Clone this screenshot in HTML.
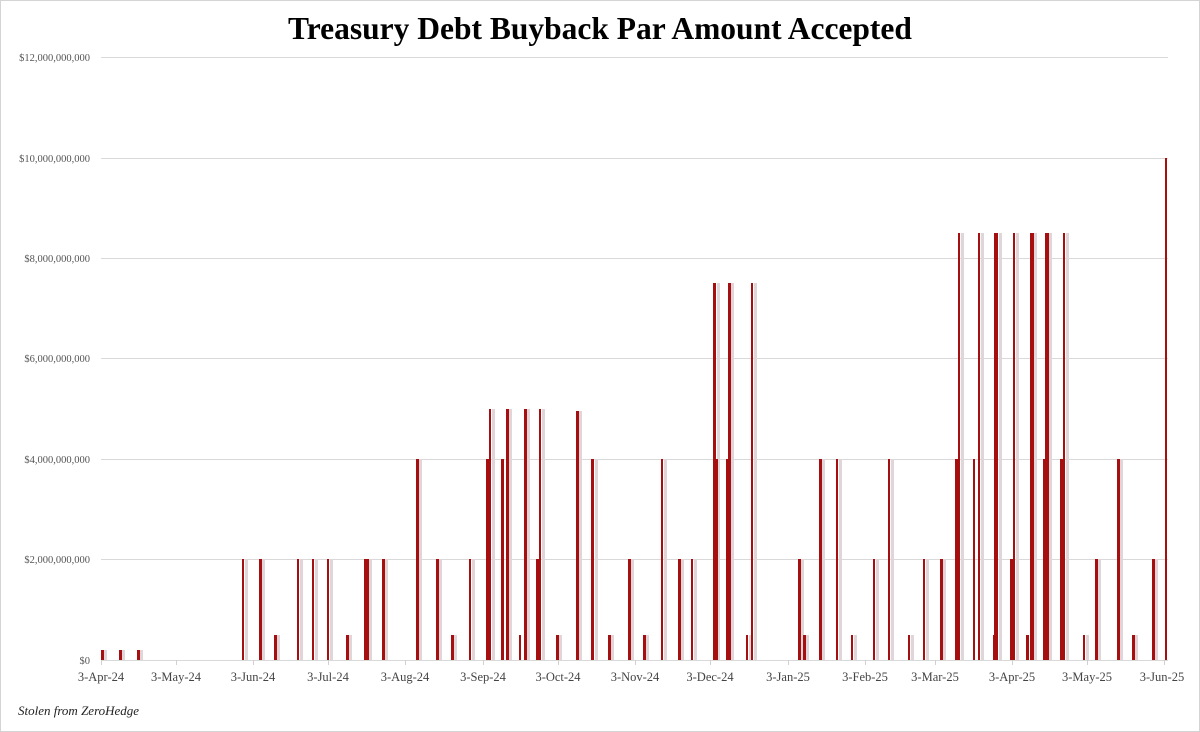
<!DOCTYPE html>
<html><head><meta charset="utf-8"><style>
html,body{margin:0;padding:0;background:#fff}
svg{display:block}
</style></head><body>
<svg width="1200" height="732" viewBox="0 0 1200 732" xmlns="http://www.w3.org/2000/svg">
<rect x="0.5" y="0.5" width="1199" height="731" fill="#fff" stroke="#d4d4d4"/>
<text x="600" y="39" text-anchor="middle" font-family="Liberation Serif, serif" font-weight="bold" font-size="31.5" fill="#000">Treasury Debt Buyback Par Amount Accepted</text>
<g stroke="#d9d9d9" stroke-width="1">
<line x1="101" x2="1168" y1="57.5" y2="57.5"/>
<line x1="101" x2="1168" y1="158.5" y2="158.5"/>
<line x1="101" x2="1168" y1="258.5" y2="258.5"/>
<line x1="101" x2="1168" y1="358.5" y2="358.5"/>
<line x1="101" x2="1168" y1="459.5" y2="459.5"/>
<line x1="101" x2="1168" y1="559.5" y2="559.5"/>
<line x1="101" x2="1168" y1="660.5" y2="660.5"/>
</g>
<g font-family="Liberation Serif, serif" font-size="10.5" fill="#555" text-anchor="end">
<text x="90" y="61">$12,000,000,000</text>
<text x="90" y="162">$10,000,000,000</text>
<text x="90" y="262">$8,000,000,000</text>
<text x="90" y="362">$6,000,000,000</text>
<text x="90" y="463">$4,000,000,000</text>
<text x="90" y="563">$2,000,000,000</text>
<text x="90" y="664">$0</text>
</g>
<g stroke="#d0d0d0">
<line x1="101.5" x2="101.5" y1="660" y2="665"/><line x1="176.5" x2="176.5" y1="660" y2="665"/><line x1="253.5" x2="253.5" y1="660" y2="665"/><line x1="328.5" x2="328.5" y1="660" y2="665"/><line x1="405.5" x2="405.5" y1="660" y2="665"/><line x1="483.5" x2="483.5" y1="660" y2="665"/><line x1="558.5" x2="558.5" y1="660" y2="665"/><line x1="635.5" x2="635.5" y1="660" y2="665"/><line x1="710.5" x2="710.5" y1="660" y2="665"/><line x1="788.5" x2="788.5" y1="660" y2="665"/><line x1="865.5" x2="865.5" y1="660" y2="665"/><line x1="935.5" x2="935.5" y1="660" y2="665"/><line x1="1012.5" x2="1012.5" y1="660" y2="665"/><line x1="1087.5" x2="1087.5" y1="660" y2="665"/><line x1="1164.5" x2="1164.5" y1="660" y2="665"/>
</g>
<g font-family="Liberation Serif, serif" font-size="12.5" fill="#444" text-anchor="middle">
<text x="101" y="681">3-Apr-24</text><text x="176" y="681">3-May-24</text><text x="253" y="681">3-Jun-24</text><text x="328" y="681">3-Jul-24</text><text x="405" y="681">3-Aug-24</text><text x="483" y="681">3-Sep-24</text><text x="558" y="681">3-Oct-24</text><text x="635" y="681">3-Nov-24</text><text x="710" y="681">3-Dec-24</text><text x="788" y="681">3-Jan-25</text><text x="865" y="681">3-Feb-25</text><text x="935" y="681">3-Mar-25</text><text x="1012" y="681">3-Apr-25</text><text x="1087" y="681">3-May-25</text><text x="1162" y="681">3-Jun-25</text>
</g>
<text x="18" y="715" font-family="Liberation Serif, serif" font-style="italic" font-size="13" fill="#222">Stolen from ZeroHedge</text>
<g fill="#e0d6da">
<rect x="104" y="650" width="3" height="10"/><rect x="122" y="650" width="3" height="10"/><rect x="140" y="650" width="3" height="10"/>
<rect x="245" y="559" width="3" height="101"/><rect x="262" y="559" width="3" height="101"/><rect x="277" y="635" width="3" height="25"/><rect x="300" y="559" width="3" height="101"/><rect x="315" y="559" width="3" height="101"/><rect x="330" y="559" width="3" height="101"/><rect x="349" y="635" width="3" height="25"/><rect x="369" y="559" width="3" height="101"/><rect x="385" y="559" width="3" height="101"/><rect x="419" y="459" width="3" height="201"/><rect x="439" y="559" width="3" height="101"/>
<rect x="454" y="635" width="3" height="25"/><rect x="472" y="559" width="3" height="101"/><rect x="492" y="409" width="3" height="251"/><rect x="509" y="409" width="3" height="251"/><rect x="527" y="409" width="3" height="251"/><rect x="542" y="409" width="3" height="251"/><rect x="559" y="635" width="3" height="25"/><rect x="579" y="411" width="3" height="249"/><rect x="595" y="459" width="3" height="201"/><rect x="611" y="635" width="3" height="25"/><rect x="631" y="559" width="3" height="101"/><rect x="646" y="635" width="3" height="25"/><rect x="664" y="459" width="3" height="201"/><rect x="681" y="559" width="3" height="101"/><rect x="694" y="559" width="3" height="101"/><rect x="717" y="283" width="3" height="377"/><rect x="731" y="283" width="3" height="377"/><rect x="749" y="635" width="3" height="25"/><rect x="754" y="283" width="3" height="377"/>
<rect x="801" y="559" width="3" height="101"/><rect x="806" y="635" width="3" height="25"/><rect x="822" y="459" width="3" height="201"/><rect x="839" y="459" width="3" height="201"/><rect x="854" y="635" width="3" height="25"/><rect x="876" y="559" width="3" height="101"/><rect x="891" y="459" width="3" height="201"/><rect x="911" y="635" width="3" height="25"/><rect x="926" y="559" width="3" height="101"/><rect x="943" y="559" width="3" height="101"/><rect x="961" y="233" width="3" height="427"/><rect x="981" y="233" width="3" height="427"/><rect x="999" y="233" width="3" height="427"/><rect x="1016" y="233" width="3" height="427"/><rect x="1034" y="233" width="3" height="427"/><rect x="1049" y="233" width="3" height="427"/><rect x="1066" y="233" width="3" height="427"/><rect x="1086" y="635" width="3" height="25"/><rect x="1098" y="559" width="3" height="101"/><rect x="1120" y="459" width="3" height="201"/><rect x="1135" y="635" width="3" height="25"/><rect x="1155" y="559" width="3" height="101"/>
</g>
<g fill="#a50f0f">
<rect x="101" y="650" width="3" height="10"/><rect x="119" y="650" width="3" height="10"/><rect x="137" y="650" width="3" height="10"/>
<rect x="242" y="559" width="2" height="101"/><rect x="259" y="559" width="3" height="101"/><rect x="274" y="635" width="3" height="25"/><rect x="297" y="559" width="2" height="101"/><rect x="312" y="559" width="2" height="101"/><rect x="327" y="559" width="2" height="101"/><rect x="346" y="635" width="3" height="25"/><rect x="364" y="559" width="5" height="101"/><rect x="382" y="559" width="3" height="101"/><rect x="416" y="459" width="3" height="201"/><rect x="436" y="559" width="3" height="101"/>
<rect x="451" y="635" width="3" height="25"/><rect x="469" y="559" width="2" height="101"/><rect x="486" y="459" width="5" height="201"/><rect x="489" y="409" width="2" height="251"/><rect x="501" y="459" width="3" height="201"/><rect x="506" y="409" width="3" height="251"/><rect x="519" y="635" width="2" height="25"/><rect x="524" y="409" width="3" height="251"/><rect x="536" y="559" width="5" height="101"/><rect x="539" y="409" width="2" height="251"/><rect x="556" y="635" width="3" height="25"/><rect x="576" y="411" width="3" height="249"/><rect x="591" y="459" width="3" height="201"/><rect x="608" y="635" width="3" height="25"/><rect x="628" y="559" width="3" height="101"/><rect x="643" y="635" width="3" height="25"/><rect x="661" y="459" width="2" height="201"/><rect x="678" y="559" width="3" height="101"/><rect x="691" y="559" width="2" height="101"/><rect x="713" y="459" width="5" height="201"/><rect x="713" y="283" width="3" height="377"/><rect x="726" y="459" width="5" height="201"/><rect x="728" y="283" width="3" height="377"/><rect x="746" y="635" width="2" height="25"/><rect x="751" y="283" width="2" height="377"/>
<rect x="798" y="559" width="3" height="101"/><rect x="803" y="635" width="3" height="25"/><rect x="819" y="459" width="3" height="201"/><rect x="836" y="459" width="2" height="201"/><rect x="851" y="635" width="2" height="25"/><rect x="873" y="559" width="2" height="101"/><rect x="888" y="459" width="2" height="201"/><rect x="908" y="635" width="2" height="25"/><rect x="923" y="559" width="2" height="101"/><rect x="940" y="559" width="3" height="101"/><rect x="955" y="459" width="5" height="201"/><rect x="958" y="233" width="2" height="427"/><rect x="973" y="459" width="2" height="201"/><rect x="978" y="233" width="2" height="427"/><rect x="993" y="635" width="3" height="25"/><rect x="994" y="233" width="4" height="427"/><rect x="1010" y="559" width="5" height="101"/><rect x="1013" y="233" width="2" height="427"/><rect x="1026" y="635" width="3" height="25"/><rect x="1030" y="233" width="4" height="427"/><rect x="1043" y="459" width="5" height="201"/><rect x="1045" y="233" width="4" height="427"/><rect x="1060" y="459" width="5" height="201"/><rect x="1063" y="233" width="2" height="427"/><rect x="1083" y="635" width="2" height="25"/><rect x="1095" y="559" width="3" height="101"/><rect x="1117" y="459" width="3" height="201"/><rect x="1132" y="635" width="3" height="25"/><rect x="1152" y="559" width="3" height="101"/><rect x="1165" y="158" width="2" height="502"/>
</g>
</svg>
</body></html>
